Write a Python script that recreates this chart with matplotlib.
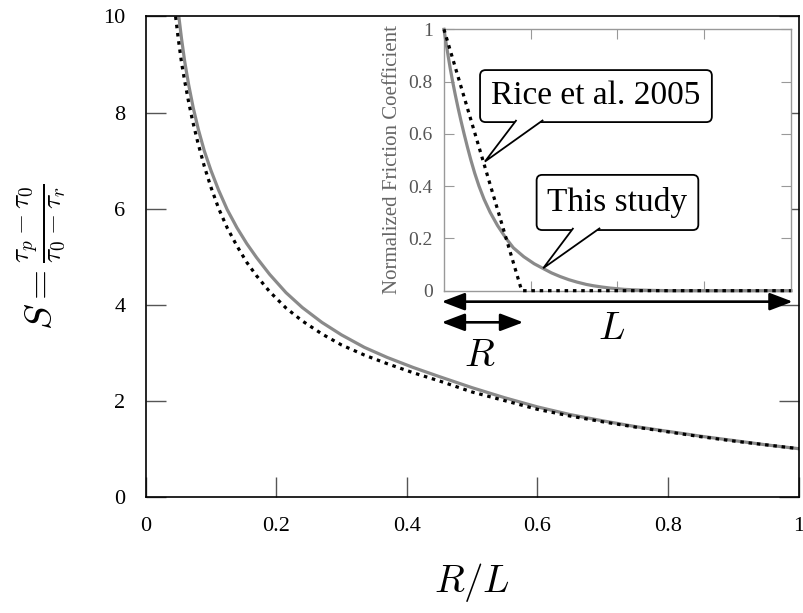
import matplotlib
matplotlib.use("Agg")
import matplotlib.pyplot as plt
from matplotlib.patches import FancyBboxPatch, PathPatch, FancyArrowPatch
from matplotlib.path import Path

plt.rcParams['font.family'] = ['Liberation Serif', 'DejaVu Serif']
plt.rcParams['mathtext.fontset'] = 'cm'

# main panel: S against R/L
x_rice = [0.046, 0.050, 0.055, 0.060, 0.066, 0.072, 0.080, 0.090, 0.100, 0.112,
          0.125, 0.140, 0.155, 0.170, 0.190, 0.215, 0.240, 0.270, 0.300, 0.335,
          0.370, 0.410, 0.450, 0.500, 0.550, 0.600, 0.650, 0.700, 0.750, 0.800,
          0.850, 0.900, 0.950, 1.000]
s_rice = [10.0, 9.55, 9.05, 8.65, 8.22, 7.83, 7.38, 6.88, 6.45, 6.00,
          5.60, 5.22, 4.88, 4.60, 4.27, 3.93, 3.66, 3.39, 3.16, 2.95,
          2.77, 2.58, 2.41, 2.18, 2.00, 1.82, 1.68, 1.56, 1.45, 1.35,
          1.25, 1.16, 1.08, 1.00]

x_this = [0.051, 0.055, 0.060, 0.066, 0.073, 0.081, 0.090, 0.100, 0.112, 0.125,
          0.140, 0.155, 0.170, 0.190, 0.215, 0.240, 0.270, 0.300, 0.335, 0.370,
          0.410, 0.450, 0.500, 0.550, 0.600, 0.650, 0.700, 0.750, 0.800, 0.850,
          0.900, 0.950, 1.000]
s_this = [10.0, 9.55, 9.06, 8.58, 8.10, 7.64, 7.20, 6.80, 6.38, 5.98,
          5.60, 5.27, 4.98, 4.63, 4.25, 3.94, 3.63, 3.37, 3.11, 2.90,
          2.69, 2.50, 2.27, 2.06, 1.87, 1.71, 1.58, 1.46, 1.36, 1.26,
          1.17, 1.08, 1.00]

# inset: normalized friction coefficient along the fault
xi_rice = [0.0, 0.224, 1.0]
mu_rice = [1.0, 0.0, 0.0]
xi_this = [0.0, 0.0058, 0.0118, 0.0181, 0.025, 0.0325, 0.0405, 0.049, 0.058, 0.0675,
           0.0775, 0.0885, 0.101, 0.1155, 0.133, 0.154, 0.179, 0.20, 0.23, 0.26,
           0.287, 0.31, 0.335, 0.36, 0.383, 0.41, 0.43, 0.455, 0.479, 0.52,
           0.56, 0.60, 0.65, 1.0]
mu_this = [1.0, 0.95, 0.90, 0.85, 0.80, 0.75, 0.70, 0.65, 0.60, 0.55,
           0.50, 0.45, 0.40, 0.35, 0.30, 0.25, 0.20, 0.164, 0.130, 0.103,
           0.084, 0.068, 0.054, 0.042, 0.033, 0.024, 0.019, 0.014, 0.010, 0.005,
           0.0025, 0.001, 0.0, 0.0]

gray = '#8a8a8a'

fig = plt.figure(figsize=(8.04, 6.13), dpi=100)
ax = fig.add_axes([0.181, 0.1897, 0.8125, 0.7834])
ax.plot(x_this, s_this, color=gray, lw=2.3, solid_capstyle='butt',
        solid_joinstyle='round')
ax.plot(x_rice, s_rice, color='black', lw=2.3, linestyle=(0, (1.1, 1.5)))
ax.set_xlim(0, 1)
ax.set_ylim(0, 10)
ax.set_xticks([0, 0.2, 0.4, 0.6, 0.8, 1])
ax.set_xticklabels(['0', '0.2', '0.4', '0.6', '0.8', '1'])
ax.set_yticks([0, 2, 4, 6, 8, 10])
ax.tick_params(direction='in', length=14.5, width=1.0, color='#555555',
               labelsize=16, pad=14.5, right=True)
for sp in ax.spines.values():
    sp.set_linewidth(1.2)
ax.set_xlabel(r'$R/L$', fontsize=28, labelpad=18)
ax.set_ylabel(r'$S = \frac{\tau_p - \tau_0}{\tau_0 - \tau_r}$', fontsize=28, labelpad=25)

# inset
axi = fig.add_axes([0.5522, 0.5258, 0.4316, 0.4264])
axi.plot(xi_this, mu_this, color=gray, lw=2.3, clip_on=False, zorder=3,
         solid_joinstyle='round')
axi.plot(xi_rice, mu_rice, color='black', lw=2.3, linestyle=(0, (1.1, 1.5)),
         clip_on=False, zorder=4)
axi.set_xlim(0, 1)
axi.set_ylim(0, 1)
axi.set_xticks([0.25, 0.5, 0.75])
axi.set_xticklabels([])
axi.set_yticks([0, 0.2, 0.4, 0.6, 0.8, 1])
axi.set_yticklabels(['0', '0.2', '0.4', '0.6', '0.8', '1'])
axi.tick_params(direction='in', length=7.5, width=0.8, color='#999999',
                labelsize=14, labelcolor='#555555', pad=8, right=True, top=True)
for sp in axi.spines.values():
    sp.set_color('#999999')
    sp.set_linewidth(1.0)
axi.set_ylabel('Normalized Friction Coefficient', fontsize=15, color='#666666',
               labelpad=5)


def callout(a, label, box, base, tip):
    x0, y0, x1, y1 = box
    patch = FancyBboxPatch((x0, y0), x1 - x0, y1 - y0,
                           boxstyle='round,pad=0,rounding_size=0.016',
                           mutation_aspect=1.33, fc='white', ec='black', lw=1.3,
                           transform=a.transAxes, clip_on=False, zorder=6)
    a.add_patch(patch)
    eps = 0.008
    wedge = Path([(base[0], y0 + eps), tip, (base[1], y0 + eps)])
    a.add_patch(PathPatch(wedge, fc='white', ec='black', lw=1.3,
                          transform=a.transAxes, clip_on=False, zorder=7))
    a.text((x0 + x1) / 2, (y0 + y1) / 2, label, fontsize=24, ha='center',
           va='center', transform=a.transAxes, zorder=8)


callout(axi, 'Rice et al. 2005', (0.104, 0.645, 0.772, 0.844), (0.209, 0.286), (0.118, 0.494))
callout(axi, 'This study', (0.267, 0.232, 0.733, 0.443), (0.373, 0.45), (0.286, 0.086))

# length arrows below the inset
for xa, xb, yy in [(-0.0066, 1.005, -0.042), (-0.0066, 0.2285, -0.121)]:
    arr = FancyArrowPatch((xa, yy), (xb, yy), transform=axi.transAxes,
                          arrowstyle='<|-|>,head_length=1.0,head_width=0.38',
                          mutation_scale=14, lw=1.9, color='black', clip_on=False,
                          shrinkA=0, shrinkB=0, zorder=5)
    axi.add_patch(arr)
axi.text(0.483, -0.150, r'$L$', fontsize=28, ha='center', va='center',
         transform=axi.transAxes)
axi.text(0.102, -0.252, r'$R$', fontsize=28, ha='center', va='center',
         transform=axi.transAxes)

fig.savefig('out.png', dpi=100)
